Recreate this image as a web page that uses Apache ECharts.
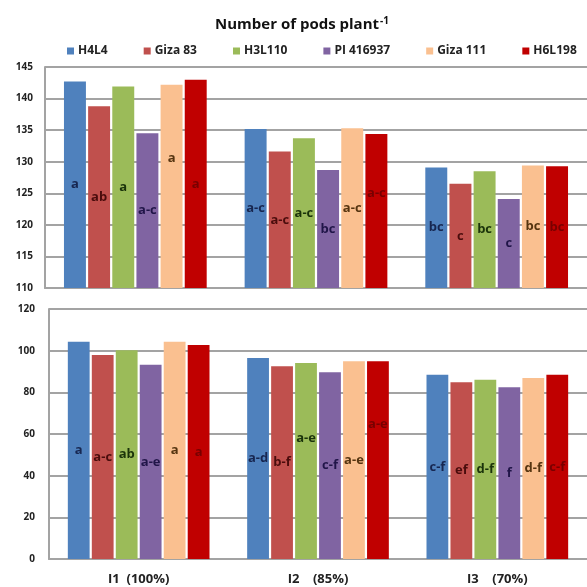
<!DOCTYPE html>
<html>
<head>
<meta charset="utf-8">
<script src="https://cdn.jsdelivr.net/npm/echarts@6/dist/echarts.min.js"></script>
<style>
  html, body { margin: 0; padding: 0; background: #fff; }
  #chart { width: 587px; height: 587px; }
</style>
</head>
<body>
<div id="chart"></div>
<script>
// Irrigation levels on the category axis
const categories = ['I1  (100%)', 'I2    (85%)', 'I3    (70%)'];
const genotypes = ['H4L4', 'Giza 83', 'H3L110', 'PI 416937', 'Giza 111', 'H6L198'];

// Upper panel: pods per plant (axis 110-145)
const upperH4L4 = [142.7, 135.2, 129.1];
const upperGiza83 = [138.8, 131.6, 126.5];
const upperH3L110 = [141.9, 133.7, 128.5];
const upperPI416937 = [134.5, 128.7, 124.1];
const upperGiza111 = [142.2, 135.3, 129.4];
const upperH6L198 = [143.0, 134.4, 129.3];

// Upper panel: significance letters
const upperLetH4L4 = ['a', 'a-c', 'bc'];
const upperLetGiza83 = ['ab', 'a-c', 'c'];
const upperLetH3L110 = ['a', 'a-c', 'bc'];
const upperLetPI416937 = ['a-c', 'bc', 'c'];
const upperLetGiza111 = ['a', 'a-c', 'bc'];
const upperLetH6L198 = ['a', 'a-c', 'bc'];

// Lower panel: pods per plant (axis 0-120)
const lowerH4L4 = [104.3, 96.5, 88.5];
const lowerGiza83 = [97.9, 92.5, 84.8];
const lowerH3L110 = [100.2, 94.1, 86.1];
const lowerPI416937 = [93.3, 89.6, 82.4];
const lowerGiza111 = [104.3, 94.9, 86.9];
const lowerH6L198 = [102.7, 94.9, 88.5];

// Lower panel: significance letters
const lowerLetH4L4 = ['a', 'a-d', 'c-f'];
const lowerLetGiza83 = ['a-c', 'b-f', 'ef'];
const lowerLetH3L110 = ['ab', 'a-e', 'd-f'];
const lowerLetPI416937 = ['a-e', 'c-f', 'f'];
const lowerLetGiza111 = ['a', 'a-e', 'd-f'];
const lowerLetH6L198 = ['a', 'a-e', 'c-f'];

// Axis ticks
const upperTicks = { min: 110, max: 145, step: 5 };
const lowerTicks = { min: 0, max: 120, step: 20 };

const upperValues = [upperH4L4, upperGiza83, upperH3L110, upperPI416937, upperGiza111, upperH6L198];
const upperLetters = [upperLetH4L4, upperLetGiza83, upperLetH3L110, upperLetPI416937, upperLetGiza111, upperLetH6L198];
const lowerValues = [lowerH4L4, lowerGiza83, lowerH3L110, lowerPI416937, lowerGiza111, lowerH6L198];
const lowerLetters = [lowerLetH4L4, lowerLetGiza83, lowerLetH3L110, lowerLetPI416937, lowerLetGiza111, lowerLetH6L198];

const barColors = ['#4F81BD', '#C0504D', '#9BBB59', '#8064A2', '#FAC090', '#C00000'];
const letterColors = ['#172650', '#4a0c0c', '#1a330a', '#201548', '#553410', '#780000'];

// A few letters sit higher in their bars (pixel shift, keyed panel:series:category)
const letterLift = { 'u:4:0': -28, 'u:5:1': -18, 'l:2:1': -23, 'l:5:1': -36 };

const fontFam = '"Open Sans", Lato, sans-serif';
const gridLine = { show: true, lineStyle: { color: '#a3a3a3', width: 2 } };

function buildSeries(values, letters, panel, axisIdx) {
  return values.map((vals, s) => ({
    name: genotypes[s],
    type: 'bar',
    xAxisIndex: axisIdx,
    yAxisIndex: axisIdx,
    barGap: '10%',
    barCategoryGap: '21%',
    itemStyle: { color: barColors[s] },
    label: {
      show: true,
      position: 'inside',
      color: letterColors[s],
      fontFamily: fontFam,
      fontWeight: 'bold',
      fontSize: 13,
      formatter: p => letters[s][p.dataIndex]
    },
    data: vals.map((v, c) => {
      const lift = letterLift[panel + ':' + s + ':' + c];
      return lift ? { value: v, label: { offset: [0, lift] } } : v;
    })
  }));
}

const chart = echarts.init(document.getElementById('chart'), null, { renderer: 'canvas' });

chart.setOption({
  animation: false,
  backgroundColor: '#fff',
  title: {
    text: '{t|Number of pods plant}{s|-1}',
    left: 297,
    textAlign: 'center',
    top: 11,
    textStyle: {
      rich: {
        t: { fontFamily: fontFam, fontWeight: 'bold', fontSize: 15, color: '#111' },
        s: { fontFamily: fontFam, fontWeight: 'bold', fontSize: 10, color: '#111', verticalAlign: 'top', padding: [0, 0, 8, 1] }
      }
    }
  },
  legend: {
    data: genotypes,
    top: 40,
    left: 62,
    itemWidth: 7,
    itemHeight: 7,
    icon: 'rect',
    itemGap: 36,
    textStyle: { fontFamily: fontFam, fontWeight: 'bold', fontSize: 12, color: '#222', padding: [0, 0, 0, -1] }
  },
  grid: [
    { left: 45, top: 67, width: 549, height: 221 },
    { left: 49, top: 309, width: 546, height: 250 }
  ],
  xAxis: [
    {
      type: 'category', gridIndex: 0, data: categories,
      axisLine: { lineStyle: { color: '#a3a3a3', width: 2 } },
      axisTick: { show: false }, axisLabel: { show: false }
    },
    {
      type: 'category', gridIndex: 1, data: categories,
      axisLine: { lineStyle: { color: '#a3a3a3', width: 2 } },
      axisTick: { show: false },
      axisLabel: { margin: 14, fontFamily: fontFam, fontWeight: 'bold', fontSize: 13, color: '#222' }
    }
  ],
  yAxis: [
    {
      type: 'value', gridIndex: 0,
      min: upperTicks.min, max: upperTicks.max, interval: upperTicks.step,
      axisLine: { show: true, lineStyle: { color: '#a3a3a3', width: 2 } },
      axisTick: { show: false },
      splitLine: gridLine,
      axisLabel: { margin: 12, fontFamily: fontFam, fontWeight: 'bold', fontSize: 10, color: '#222' }
    },
    {
      type: 'value', gridIndex: 1,
      min: lowerTicks.min, max: lowerTicks.max, interval: lowerTicks.step,
      axisLine: { show: true, lineStyle: { color: '#a3a3a3', width: 2 } },
      axisTick: { show: false },
      splitLine: gridLine,
      axisLabel: { margin: 14, fontFamily: fontFam, fontWeight: 'bold', fontSize: 10, color: '#222' }
    }
  ],
  series: [
    ...buildSeries(upperValues, upperLetters, 'u', 0),
    ...buildSeries(lowerValues, lowerLetters, 'l', 1)
  ]
});
</script>
</body>
</html>
